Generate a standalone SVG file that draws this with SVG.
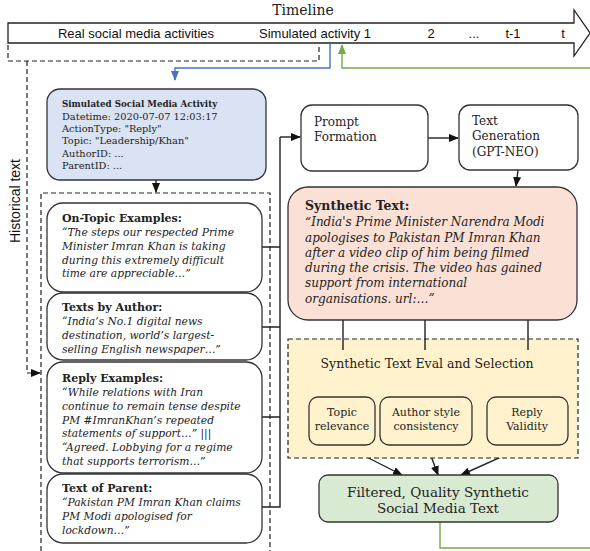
<svg xmlns="http://www.w3.org/2000/svg" width="590" height="551" viewBox="0 0 590 551">
<style>
.sans{font-family:"Liberation Sans",Arial,sans-serif;fill:#111}
.ser{font-family:"DejaVu Serif","Liberation Serif",serif;fill:#222}
.it{font-style:italic}
.b{font-weight:bold}
.box{stroke:#333;stroke-width:1.3}
.ln{fill:none;stroke:#222;stroke-width:1.4}
.dash{fill:none;stroke:#222;stroke-width:1.2;stroke-dasharray:5,3}
</style>
<defs>
<marker id="ah" markerUnits="userSpaceOnUse" markerWidth="10" markerHeight="8" refX="9" refY="4" orient="auto"><path d="M0,0 L10,4 L0,8 z" fill="#111"/></marker>
<marker id="ahb" markerUnits="userSpaceOnUse" markerWidth="10" markerHeight="8" refX="9" refY="4" orient="auto"><path d="M0,0 L10,4 L0,8 z" fill="#4472c4"/></marker>
<marker id="ahg" markerUnits="userSpaceOnUse" markerWidth="10" markerHeight="8" refX="9" refY="4" orient="auto"><path d="M0,0 L10,4 L0,8 z" fill="#70ad47"/></marker>
</defs>
<rect width="590" height="551" fill="#fff"/>

<g id="timeline">
<text class="ser" x="303" y="15" font-size="14" text-anchor="middle">Timeline</text>
<path d="M8,23 H574 V10 L590,33 L574,56 V43 H8 Z" fill="#fff" stroke="#222" stroke-width="1.3"/>
<text class="sans" x="136" y="38" font-size="13" text-anchor="middle">Real social media activities</text>
<text class="sans" x="315" y="38" font-size="13" text-anchor="middle">Simulated activity 1</text>
<text class="sans" x="431" y="38" font-size="13" text-anchor="middle">2</text>
<text class="sans" x="474" y="38" font-size="13" text-anchor="middle">...</text>
<text class="sans" x="513" y="38" font-size="13" text-anchor="middle">t-1</text>
<text class="sans" x="563" y="38" font-size="13" text-anchor="middle">t</text>
</g>

<g id="historical">
<path class="dash" d="M8,45 V61 H319 V45"/>
<text class="sans" transform="translate(20,201) rotate(-90)" font-size="14" text-anchor="middle">Historical text</text>
<path class="dash" d="M41,551 V193 H270 V551"/>
</g>

<g id="connectors">
<path d="M330,44 V68 H175 V80" fill="none" stroke="#4472c4" stroke-width="1.4" marker-end="url(#ahb)"/>
<path d="M590,68 H342 V45" fill="none" stroke="#70ad47" stroke-width="1.4" marker-end="url(#ahg)"/>
<path d="M440,522 V548 H590" fill="none" stroke="#70ad47" stroke-width="1.4"/>
<path class="dash" d="M27,61 V373 H40" marker-end="url(#ah)"/>
<path class="ln" d="M156,180 V192" marker-end="url(#ah)"/>
<path class="ln" d="M262,247 H280 M262,327 H280 M262,417 H280 M262,507 H280 V137"/>
<path class="ln" d="M280,137 H300" marker-end="url(#ah)"/>
<path class="ln" d="M428,138 H458" marker-end="url(#ah)"/>
<path class="ln" d="M518,170 L516,186" marker-end="url(#ah)"/>
<path class="ln" d="M343,320 V350 M425,320 V350 M528,320 V350"/>
<path class="ln" d="M343,377 V396" marker-end="url(#ah)"/>
<path class="ln" d="M425,377 V396" marker-end="url(#ah)"/>
<path class="ln" d="M528,377 V396" marker-end="url(#ah)"/>
<path class="ln" d="M343,445 L402,475" marker-end="url(#ah)"/>
<path class="ln" d="M427,445 L438,475" marker-end="url(#ah)"/>
<path class="ln" d="M528,445 L461,475" marker-end="url(#ah)"/>
</g>

<g id="sim-activity">
<rect class="box" x="47" y="89" width="219" height="91" rx="13" fill="#dae3f3"/>
<text class="ser b" x="62" y="107" font-size="8.7">Simulated Social Media Activity</text>
<text class="ser" font-size="9.8"><tspan x="62" y="120">Datetime: 2020-07-07 12:03:17</tspan><tspan x="62" y="132">ActionType: "Reply"</tspan><tspan x="62" y="144">Topic: "Leadership/Khan"</tspan><tspan x="62" y="157">AuthorID: ...</tspan><tspan x="62" y="169">ParentID: ...</tspan></text>
</g>

<g id="on-topic">
<rect class="box" x="47" y="203" width="215" height="89" rx="16" fill="#fff"/>
<text class="ser b" x="62" y="222" font-size="11">On-Topic Examples:</text>
<text class="ser it" font-size="10.7"><tspan x="62" y="236">“The steps our respected Prime</tspan><tspan x="62" y="250">Minister Imran Khan is taking</tspan><tspan x="62" y="264">during this extremely difficult</tspan><tspan x="62" y="277">time are appreciable…”</tspan></text>
</g>

<g id="by-author">
<rect class="box" x="47" y="293" width="215" height="67" rx="16" fill="#fff"/>
<text class="ser b" x="62" y="311" font-size="11">Texts by Author:</text>
<text class="ser it" font-size="10.7"><tspan x="62" y="325">“India’s No.1 digital news</tspan><tspan x="62" y="339">destination, world’s largest-</tspan><tspan x="62" y="353">selling English newspaper…”</tspan></text>
</g>

<g id="reply-examples">
<rect class="box" x="47" y="362" width="215" height="111" rx="16" fill="#fff"/>
<text class="ser b" x="62" y="382" font-size="11">Reply Examples:</text>
<text class="ser it" font-size="10.7"><tspan x="62" y="396">“While relations with Iran</tspan><tspan x="62" y="410">continue to remain tense despite</tspan><tspan x="62" y="424">PM #ImranKhan’s repeated</tspan><tspan x="62" y="437">statements of support…” |||</tspan><tspan x="62" y="451">“Agreed. Lobbying for a regime</tspan><tspan x="62" y="465">that supports terrorism…”</tspan></text>
</g>

<g id="parent">
<rect class="box" x="47" y="474" width="215" height="69" rx="16" fill="#fff"/>
<text class="ser b" x="62" y="492" font-size="11">Text of Parent:</text>
<text class="ser it" font-size="10.7"><tspan x="62" y="506">“Pakistan PM Imran Khan claims</tspan><tspan x="62" y="520">PM Modi apologised for</tspan><tspan x="62" y="534">lockdown…”</tspan></text>
</g>

<g id="prompt">
<rect class="box" x="301" y="105" width="127" height="66" rx="11" fill="#fff"/>
<text class="ser" font-size="12"><tspan x="314" y="126">Prompt</tspan><tspan x="314" y="141">Formation</tspan></text>
</g>

<g id="textgen">
<rect class="box" x="459" y="105" width="119" height="65" rx="11" fill="#fff"/>
<text class="ser" font-size="12"><tspan x="472" y="125">Text</tspan><tspan x="472" y="140">Generation</tspan><tspan x="472" y="156">(GPT-NEO)</tspan></text>
</g>

<g id="synthetic">
<rect class="box" x="288" y="187" width="289" height="133" rx="20" fill="#fbe0d5"/>
<text class="ser b" x="305" y="210" font-size="12.5">Synthetic Text:</text>
<text class="ser it" font-size="12"><tspan x="305" y="226">“India's Prime Minister Narendra Modi</tspan><tspan x="305" y="242">apologises to Pakistan PM Imran Khan</tspan><tspan x="305" y="257">after a video clip of him being filmed</tspan><tspan x="305" y="272">during the crisis. The video has gained</tspan><tspan x="305" y="287">support from international</tspan><tspan x="305" y="303">organisations. url:…”</tspan></text>
</g>

<g id="eval">
<rect x="288" y="339" width="290" height="119" fill="#fff2cc" stroke="#222" stroke-width="1.2" stroke-dasharray="5,3"/>
<text class="ser" x="427" y="368" font-size="12.5" text-anchor="middle">Synthetic Text Eval and Selection</text>
</g>
<g id="eval-lines">
<path class="ln" d="M343,339 V350 M425,339 V350 M528,339 V350"/>
</g>

<g id="topic-relevance">
<rect class="box" x="309" y="397" width="66" height="48" rx="9" fill="#fff2cc"/>
<text class="ser" font-size="11" text-anchor="middle"><tspan x="342" y="416">Topic</tspan><tspan x="342" y="430">relevance</tspan></text>
</g>

<g id="author-style">
<rect class="box" x="380" y="397" width="92" height="48" rx="9" fill="#fff2cc"/>
<text class="ser" font-size="11" text-anchor="middle"><tspan x="426" y="416">Author style</tspan><tspan x="426" y="430">consistency</tspan></text>
</g>

<g id="reply-validity">
<rect class="box" x="487" y="397" width="81" height="48" rx="9" fill="#fff2cc"/>
<text class="ser" font-size="11" text-anchor="middle"><tspan x="527" y="416">Reply</tspan><tspan x="527" y="430">Validity</tspan></text>
</g>

<g id="filtered">
<rect class="box" x="319" y="475" width="239" height="47" rx="9" fill="#d9ead3"/>
<text class="ser" font-size="13.5" text-anchor="middle"><tspan x="438" y="497">Filtered, Quality Synthetic</tspan><tspan x="438" y="513">Social Media Text</tspan></text>
</g>
</svg>
